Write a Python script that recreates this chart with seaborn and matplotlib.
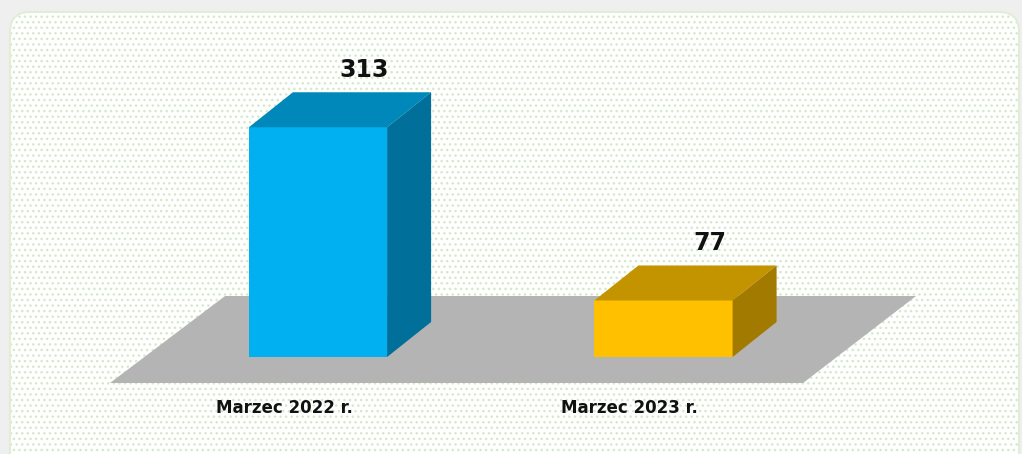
import numpy as np
import matplotlib
matplotlib.use("Agg")
import matplotlib.pyplot as plt
from matplotlib.patches import Polygon, FancyBboxPatch
from matplotlib.transforms import IdentityTransform
import seaborn as sns

# data
categories = ["Marzec 2022 r.", "Marzec 2023 r."]
values = [313, 77]
front_colors = ["#00b0f0", "#ffc000"]
top_colors = ["#0088ba", "#c49300"]
side_colors = ["#006f99", "#a37a00"]

sns.set_style("white")
plt.rcParams["font.family"] = ["DejaVu Sans"]

W, H = 1022, 454
fig = plt.figure(figsize=(W / 100, H / 100), dpi=100, facecolor="#efefef")

# rounded dotted panel (pixel coords)
panel = FancyBboxPatch((10, -20), 1009, H - 12 + 20,
                       boxstyle="round,pad=0,rounding_size=20",
                       transform=IdentityTransform(), facecolor="white",
                       edgecolor="#d3eac8", hatch="...", linewidth=0, zorder=0)
fig.add_artist(panel)
border = FancyBboxPatch((10, -20), 1009, H - 12 + 20,
                        boxstyle="round,pad=0,rounding_size=20",
                        transform=IdentityTransform(), facecolor="none",
                        edgecolor="#e0eed8", linewidth=1.5, zorder=0.1)
fig.add_artist(border)

ax = fig.add_axes([0, 0, 1, 1])
ax.set_facecolor("none")

# pixel -> data mapping: category 0 front centre at x=318px, spacing 345.5px
# baseline at y=357px from top, 0.734 px per unit
px_x = 345.5
px_y = 0.734
dx = 44 / px_x
dy = 35 / px_y

# floor
floor = Polygon([(-0.602, -35.4), (1.404, -35.4), (1.731, 83.1), (-0.269, 83.1)],
                closed=True, facecolor="#b4b4b4", edgecolor="none", zorder=0.5)
ax.add_patch(floor)

sns.barplot(x=categories, y=values, hue=categories, palette=front_colors,
            width=0.4, saturation=1, legend=False, ax=ax, zorder=2,
            edgecolor="none")
ax.set_xlim(-318 / px_x, (W - 318) / px_x)
ax.set_ylim((357 - H) / px_y, 357 / px_y)

bars = sorted([p for p in ax.patches if p is not floor], key=lambda p: p.get_x())

for i, p in enumerate(bars):
    x0, w, h = p.get_x(), p.get_width(), p.get_height()
    top = Polygon([(x0, h), (x0 + w, h), (x0 + w + dx, h + dy), (x0 + dx, h + dy)],
                  closed=True, facecolor=top_colors[i], edgecolor="none", zorder=2)
    side = Polygon([(x0 + w, 0), (x0 + w + dx, dy), (x0 + w + dx, h + dy), (x0 + w, h)],
                   closed=True, facecolor=side_colors[i], edgecolor="none", zorder=2)
    ax.add_patch(top)
    ax.add_patch(side)
    ax.text(x0 + w / 2 + dx + 2 / px_x, h + dy + 31, str(values[i]),
            ha="center", va="center", fontsize=17, fontweight="bold",
            color="#111111", zorder=3)

for i, cat in enumerate(categories):
    ax.text(i - 34 / px_x, (357 - 408) / px_y, cat, ha="center", va="center",
            fontsize=12, fontweight="bold", color="#111111", zorder=3)

ax.axis("off")

fig.savefig("out.png", dpi=100, facecolor=fig.get_facecolor())
